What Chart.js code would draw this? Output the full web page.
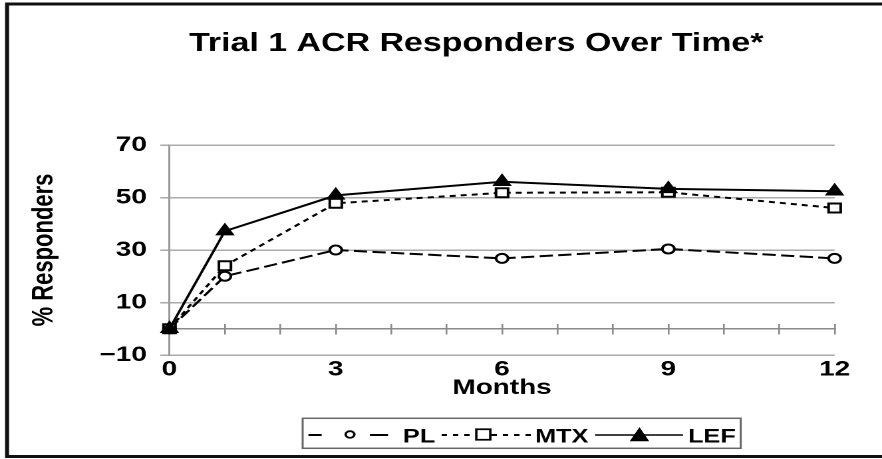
<!DOCTYPE html>
<html><head><meta charset="utf-8">
<script src="https://cdn.jsdelivr.net/npm/chart.js@4/dist/chart.umd.min.js"></script>
<style>
html,body{margin:0;padding:0;background:#fff;overflow:hidden;width:882px;height:459px;}
#wrap{position:absolute;left:0;top:0;width:706px;height:459px;transform:scaleX(1.3303);transform-origin:0 0;}
</style></head><body>
<div id="wrap"><canvas id="c"></canvas></div>
<script>
// ---- data ----
const months = [0, 1, 3, 6, 9, 12];
const xTickLabels = [0, 3, 6, 9, 12];
const monthTickMarks = [0, 1, 2, 3, 4, 5, 6, 7, 8, 9, 10, 11, 12];
const yTickLabels = [-10, 10, 30, 50, 70];
const seriesNames = ['PL', 'MTX', 'LEF'];
const plValues = [0, 20, 30, 26.8, 30.4, 26.8];
const mtxValues = [0, 24, 47.8, 51.8, 52, 46];
const lefValues = [0, 37.2, 50.8, 56, 53.3, 52.4];
const titleText = 'Trial 1 ACR Responders Over Time*';
const xTitle = 'Months';
const yTitle = '% Responders';

const FONT = '"Liberation Sans", Arial, Helvetica, sans-serif';
const pts = vals => months.map((m, i) => ({x: m, y: vals[i]}));

function drawMarker(ctx, style, x, y, size, fill, lw) {
  ctx.save();
  ctx.setLineDash([]);
  ctx.lineWidth = lw; ctx.strokeStyle = '#000'; ctx.fillStyle = fill;
  ctx.beginPath();
  if (style === 'circle') {
    ctx.arc(x, y, size, 0, Math.PI * 2);
  } else if (style === 'rect') {
    ctx.rect(x - size / 2, y - size / 2, size, size);
  } else if (style === 'triangle') {
    ctx.moveTo(x, y - size * 0.5);
    ctx.lineTo(x + size * 0.52, y + size * 0.5);
    ctx.lineTo(x - size * 0.52, y + size * 0.5);
    ctx.closePath();
  }
  ctx.fill(); ctx.stroke();
  ctx.restore();
}

const framePlugin = {
  id: 'frame',
  afterDraw(chart) {
    const ctx = chart.ctx, w = chart.width, h = chart.height;
    ctx.save();
    ctx.strokeStyle = '#111';
    ctx.lineWidth = 3;
    ctx.beginPath();
    ctx.moveTo(w, 4); ctx.lineTo(5.3, 4); ctx.lineTo(5.3, h - 2.5); ctx.lineTo(w, h - 2.5);
    ctx.stroke();
    ctx.restore();
  }
};

const legendItems = [
  {name: seriesNames[0], style: 'circle', size: 3.3, fill: '#fff', lw: 1.8, segs: [[231.8, 241.8], [278.1, 291.7]], dash: [], segLw: 2, marker: 263.1, text: 302.9},
  {name: seriesNames[1], style: 'rect', size: 10.5, fill: '#fff', lw: 1.8, segs: [[332, 357.5], [369.5, 399.7]], dash: [4, 4.5], segLw: 2, marker: 363.3, text: 402.2},
  {name: seriesNames[2], style: 'triangle', size: 12.5, fill: '#000', lw: 1, segs: [[447.3, 513.4]], dash: [], segLw: 1.5, marker: 480.7, text: 517.2}
];

const legendPlugin = {
  id: 'boxLegend',
  afterDraw(chart) {
    const ctx = chart.ctx;
    ctx.save();
    ctx.strokeStyle = '#666';
    ctx.lineWidth = 1.5;
    ctx.strokeRect(227.5, 418.3, 556.8 - 227.5, 448.3 - 418.3);
    const ly = 435;
    legendItems.forEach(it => {
      ctx.save();
      ctx.strokeStyle = '#000';
      ctx.lineWidth = it.segLw;
      ctx.setLineDash(it.dash);
      it.segs.forEach(s => { ctx.beginPath(); ctx.moveTo(s[0], ly); ctx.lineTo(s[1], ly); ctx.stroke(); });
      ctx.restore();
      drawMarker(ctx, it.style, it.marker, ly - 0.5, it.size, it.fill, it.lw);
      ctx.fillStyle = '#000';
      ctx.font = '700 19px ' + FONT;
      ctx.textAlign = 'left';
      ctx.textBaseline = 'middle';
      ctx.fillText(it.name, it.text, 437.5);
    });
    ctx.restore();
  }
};

const tickFont = {family: FONT, size: 21, weight: 'bold', lineHeight: 1};

new Chart(document.getElementById('c'), {
  type: 'line',
  data: {
    datasets: [
      {label: seriesNames[0], data: pts(plValues), borderColor: '#000', borderWidth: 2, borderDash: [10, 4],
       pointStyle: 'circle', pointRadius: 4.5, pointBackgroundColor: '#fff', pointBorderColor: '#000', pointBorderWidth: 2,
       order: 2, clip: false, tension: 0},
      {label: seriesNames[1], data: pts(mtxValues), borderColor: '#000', borderWidth: 2, borderDash: [4.5, 3.8],
       pointStyle: 'rect', pointRadius: 6.4, pointBackgroundColor: '#fff', pointBorderColor: '#000', pointBorderWidth: 2,
       order: 1, clip: false, tension: 0},
      {label: seriesNames[2], data: pts(lefValues), borderColor: '#000', borderWidth: 2, borderDash: [],
       pointStyle: 'triangle', pointRadius: 7.5, pointBackgroundColor: '#000', pointBorderColor: '#000', pointBorderWidth: 1,
       order: 0, clip: false, tension: 0}
    ]
  },
  options: {
    responsive: true, maintainAspectRatio: false, animation: false, devicePixelRatio: 2,
    layout: {padding: {left: 10, right: 0, top: 0, bottom: 59}},
    plugins: {
      legend: {display: false},
      tooltip: {enabled: false},
      title: {display: true, text: titleText, color: '#000',
        font: {family: FONT, size: 25.5, weight: 'bold', lineHeight: 1.2},
        padding: {top: 28.7, bottom: 85.7}}
    },
    scales: {
      x: {
        type: 'linear', position: 'bottom', min: 0, max: 12,
        afterBuildTicks: s => { s.ticks = xTickLabels.map(v => ({value: v})); },
        afterFit: s => { s.height = 45; },
        grid: {display: false, drawTicks: false},
        border: {display: false},
        ticks: {color: '#000', font: tickFont, padding: 4, maxRotation: 0, autoSkip: false},
        title: {display: true, text: xTitle, color: '#000', font: tickFont, padding: {top: 0, bottom: 1.5}}
      },
      x2: {
        type: 'linear', axis: 'x', position: {y: 0}, min: 0, max: 12,
        afterBuildTicks: s => { s.ticks = monthTickMarks.map(v => ({value: v})); },
        ticks: {display: false},
        grid: {drawOnChartArea: false, drawTicks: true, tickLength: 5, color: '#8a8a8a', lineWidth: 1.3},
        border: {display: true, color: '#8a8a8a', width: 1.5}
      },
      x3: {
        type: 'linear', axis: 'x', position: {y: 1.9}, min: 0, max: 12,
        afterBuildTicks: s => { s.ticks = monthTickMarks.map(v => ({value: v})); },
        ticks: {display: false},
        grid: {drawOnChartArea: false, drawTicks: true, tickLength: 5, color: '#8a8a8a', lineWidth: 1.3},
        border: {display: false}
      },
      y: {
        type: 'linear', min: -10, max: 70,
        afterBuildTicks: s => { s.ticks = yTickLabels.map(v => ({value: v})); },
        afterFit: s => { s.width = 117.4; },
        grid: {color: '#aaaaaa', lineWidth: 1.5, drawTicks: true, tickLength: 7},
        border: {display: true, color: '#999999', width: 1.5},
        ticks: {color: '#000', font: tickFont, padding: 10,
          callback: v => (v < 0 ? '\u2212' + Math.abs(v) : String(v))},
        title: {display: true, text: yTitle, color: '#000',
          font: {family: FONT, size: 22, weight: 'bold', lineHeight: 1}, padding: {top: 12.4, bottom: 0}}
      },
      ySpacer: {
        type: 'linear', axis: 'y', position: 'right', display: true,
        afterFit: s => { s.width = 78.6; },
        grid: {display: false, drawTicks: false},
        border: {display: false},
        ticks: {display: false},
        title: {display: false}
      }
    }
  },
  plugins: [framePlugin, legendPlugin]
});
</script>
</body></html>
